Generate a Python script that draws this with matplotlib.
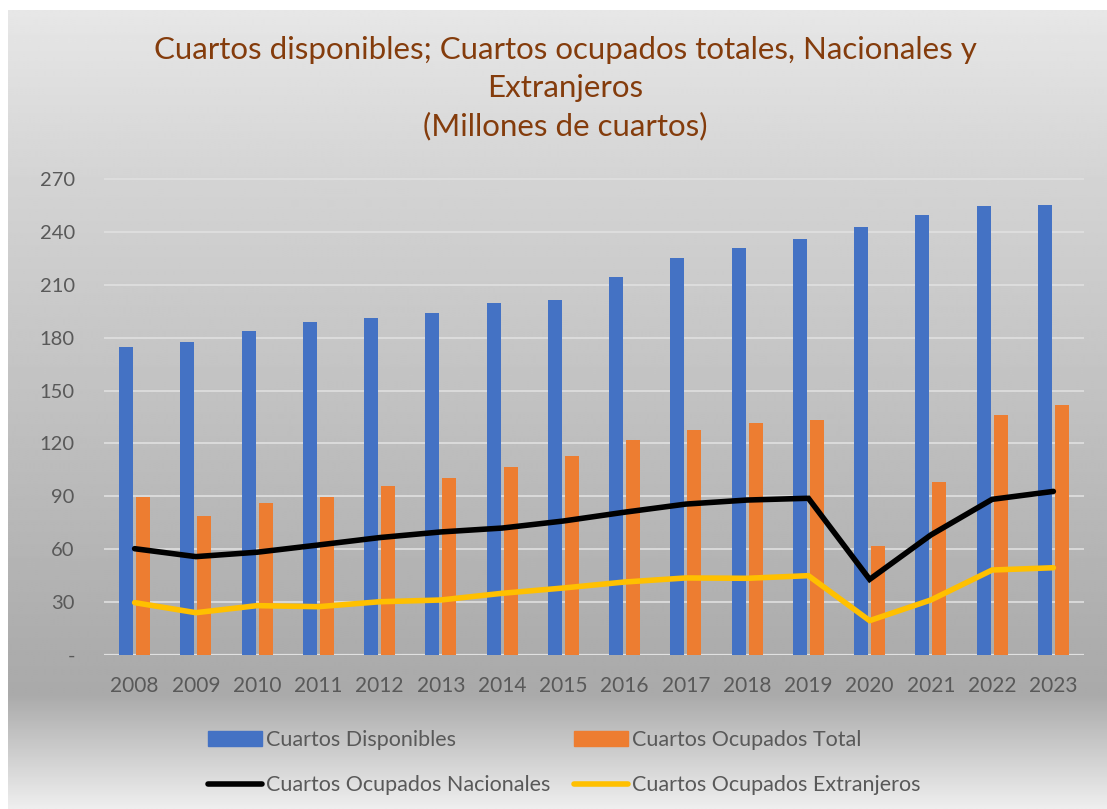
import numpy as np
import matplotlib
matplotlib.use("Agg")
import matplotlib.pyplot as plt
from matplotlib.patches import Patch
from matplotlib.lines import Line2D

years = ["2008", "2009", "2010", "2011", "2012", "2013", "2014", "2015",
         "2016", "2017", "2018", "2019", "2020", "2021", "2022", "2023"]
disponibles = [174.5, 177.4, 184.0, 188.9, 191.3, 194.0, 199.7, 201.4,
               214.4, 225.0, 230.9, 235.8, 242.8, 249.6, 254.9, 255.2]
ocupados_total = [89.4, 78.8, 86.4, 89.4, 96.0, 100.5, 106.6, 112.9,
                  121.9, 127.6, 131.4, 133.3, 62.0, 98.3, 135.9, 141.8]
nacionales = [60.3, 55.8, 58.3, 62.4, 66.6, 69.8, 72.0, 76.0,
              81.0, 85.6, 87.9, 88.9, 42.9, 68.1, 88.3, 92.8]
extranjeros = [29.7, 24.0, 28.0, 27.4, 30.2, 31.2, 35.0, 38.0,
               41.4, 43.7, 43.5, 45.0, 19.5, 31.2, 48.2, 49.5]
yticks = [0, 30, 60, 90, 120, 150, 180, 210, 240, 270]
ytick_labels = ["-", "30", "60", "90", "120", "150", "180", "210", "240", "270"]

W, H = 1107, 809
fig = plt.figure(figsize=(W / 100, H / 100), dpi=100)
fig.patch.set_facecolor("white")

# gradient background
bg = fig.add_axes([8 / W, 0, 1 - 8 / W, 1 - 10 / H], zorder=-10)
ys = np.linspace(10, 809, 400)
stops_y = [10, 180, 655, 695, 809]
stops_v = [0.905, 0.83, 0.675, 0.665, 0.935]
vals = np.interp(ys, stops_y, stops_v)
img = np.repeat(vals[:, None], 2, axis=1)
bg.imshow(img, cmap="gray", vmin=0, vmax=1, aspect="auto",
          extent=[0, 1, 0, 1], origin="upper", interpolation="bilinear")
bg.set_axis_off()

px = 1.763
bottom_px = 655
top_val = 272
ax = fig.add_axes([104 / W, 1 - bottom_px / H, (1084 - 104) / W, top_val * px / H])
ax.set_facecolor("none")

x = np.arange(len(years))
bw = 0.23
off = 0.139
ax.bar(x - off, disponibles, bw, color="#4472C4", zorder=3)
ax.bar(x + off, ocupados_total, bw, color="#ED7D31", zorder=3)
ax.plot(x, nacionales, color="black", lw=4.0, zorder=4, solid_capstyle="round",
        solid_joinstyle="miter")
ax.plot(x, extranjeros, color="#FFC000", lw=4.0, zorder=4, solid_capstyle="round",
        solid_joinstyle="miter")

ax.set_xlim(-0.5, len(years) - 0.5)
ax.set_ylim(0, top_val)
ax.set_yticks(yticks)
ax.set_yticklabels(ytick_labels)
ax.set_xticks(x)
ax.set_xticklabels(years)
for s in ax.spines.values():
    s.set_visible(False)
ax.grid(axis="y", color="#e0e0e0", lw=1.2, zorder=1)
ax.axhline(0, color="#e0e0e0", lw=1.6, zorder=2)
ax.tick_params(axis="both", length=0, colors="#595959")
ax.tick_params(axis="y", pad=21, labelsize=14.5)
ax.tick_params(axis="x", pad=15, labelsize=15)
for lbl in ax.get_xticklabels() + ax.get_yticklabels():
    lbl.set_fontfamily("Lato")

tcol = "#843C0C"
tsize = 22.5
fig.text(565 / W, 1 - 50 / H, "Cuartos disponibles; Cuartos ocupados totales, Nacionales y",
         ha="center", va="center", color=tcol, fontsize=tsize, family="Lato")
fig.text(565 / W, 1 - 88 / H, "Extranjeros", ha="center", va="center",
         color=tcol, fontsize=tsize, family="Lato")
fig.text(565 / W, 1 - 126 / H, "(Millones de cuartos)", ha="center", va="center",
         color=tcol, fontsize=tsize, family="Lato")

handles = [Patch(color="#4472C4"),
           Line2D([], [], color="black", lw=4.0, solid_capstyle="round"),
           Patch(color="#ED7D31"),
           Line2D([], [], color="#FFC000", lw=4.0, solid_capstyle="round")]
labels = ["Cuartos Disponibles", "Cuartos Ocupados Nacionales",
          "Cuartos Ocupados Total", "Cuartos Ocupados Extranjeros"]
leg = fig.legend(handles, labels, ncol=2, loc="upper left",
                 bbox_to_anchor=(208 / W, 1 - 730 / H), frameon=False,
                 prop={"family": "Lato", "size": 15.5}, handlelength=2.5,
                 handletextpad=0.2, columnspacing=1.1, labelspacing=1.18,
                 borderaxespad=0, borderpad=0)
for t in leg.get_texts():
    t.set_color("#595959")

fig.savefig("out.png", dpi=100)
